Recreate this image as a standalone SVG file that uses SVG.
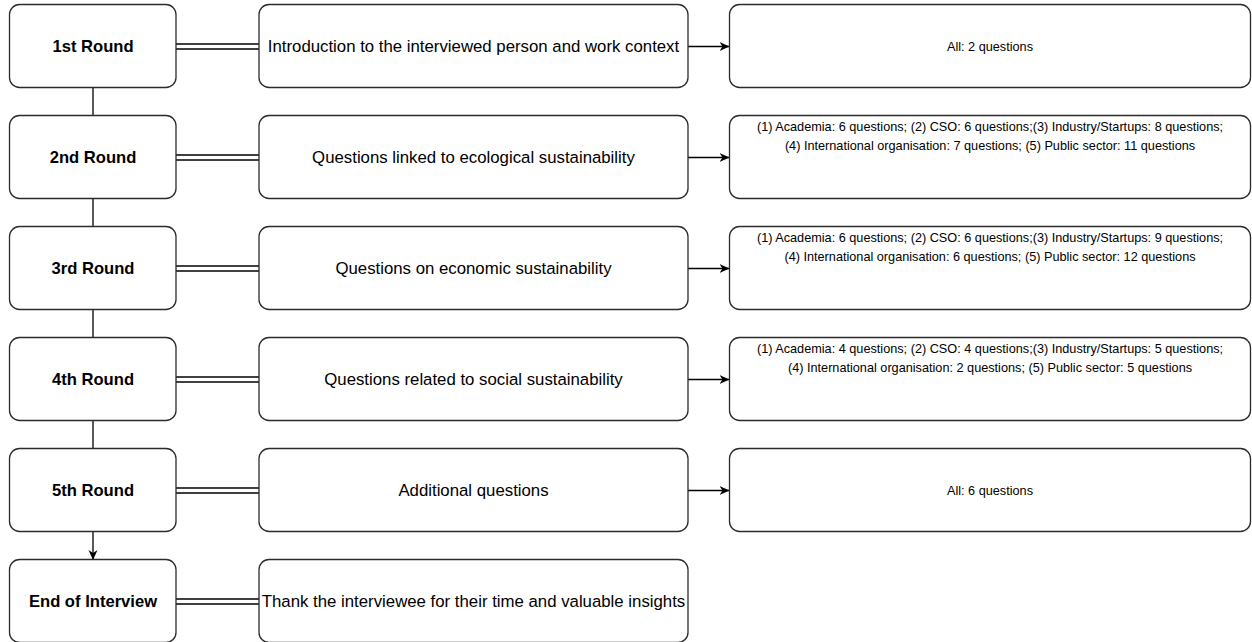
<svg xmlns="http://www.w3.org/2000/svg" width="1252" height="642" viewBox="0 0 1252 642">
  <defs>
    <marker id="arrow" viewBox="0 0 10 10" refX="9.5" refY="5" markerWidth="10" markerHeight="10" markerUnits="userSpaceOnUse" orient="auto">
      <path d="M0,0.5 L10,5 L0,9.5 L3,5 Z" fill="#000"/>
    </marker>
    <style>
      .box { fill: #fff; stroke: #2b2b2b; stroke-width: 1.3; }
      .round { font-family: "Liberation Sans", Arial, sans-serif; font-size: 16.6px; font-weight: bold; fill: #000; text-anchor: middle; }
      .topic { font-family: "Liberation Sans", Arial, sans-serif; font-size: 16.8px; fill: #000; text-anchor: middle; }
      .count { font-family: "Liberation Sans", Arial, sans-serif; font-size: 12.7px; fill: #000; text-anchor: middle; }
      .line { stroke: #000; stroke-width: 1.3; fill: none; }
    </style>
  </defs>

  <!-- connectors -->
  <g id="connectors">
    <!-- vertical chain of rounds -->
    <line class="line" x1="93" y1="87.5" x2="93" y2="115.5"/>
    <line class="line" x1="93" y1="198.5" x2="93" y2="226.5"/>
    <line class="line" x1="93" y1="309.5" x2="93" y2="337.5"/>
    <line class="line" x1="93" y1="420.5" x2="93" y2="448.5"/>
    <line class="line" x1="93" y1="531.5" x2="93" y2="559.5" marker-end="url(#arrow)"/>
    <!-- double links round -> topic -->
    <g class="line">
      <line x1="176" y1="44" x2="259" y2="44"/><line x1="176" y1="49" x2="259" y2="49"/>
      <line x1="176" y1="155" x2="259" y2="155"/><line x1="176" y1="160" x2="259" y2="160"/>
      <line x1="176" y1="266" x2="259" y2="266"/><line x1="176" y1="271" x2="259" y2="271"/>
      <line x1="176" y1="377" x2="259" y2="377"/><line x1="176" y1="382" x2="259" y2="382"/>
      <line x1="176" y1="488" x2="259" y2="488"/><line x1="176" y1="493" x2="259" y2="493"/>
      <line x1="176" y1="599" x2="259" y2="599"/><line x1="176" y1="604" x2="259" y2="604"/>
    </g>
    <!-- arrows topic -> question counts -->
    <line class="line" x1="688" y1="46.5" x2="729" y2="46.5" marker-end="url(#arrow)"/>
    <line class="line" x1="688" y1="157.5" x2="729" y2="157.5" marker-end="url(#arrow)"/>
    <line class="line" x1="688" y1="268.5" x2="729" y2="268.5" marker-end="url(#arrow)"/>
    <line class="line" x1="688" y1="379.5" x2="729" y2="379.5" marker-end="url(#arrow)"/>
    <line class="line" x1="688" y1="490.5" x2="729" y2="490.5" marker-end="url(#arrow)"/>
  </g>

  <!-- row 1 -->
  <g id="round1">
    <rect class="box" x="9.5" y="4.5" width="166.5" height="83" rx="10"/>
    <text class="round" x="93" y="52">1st Round</text>
  </g>
  <g id="topic1">
    <rect class="box" x="259" y="4.5" width="429" height="83" rx="10"/>
    <text class="topic" x="473.5" y="52">Introduction to the interviewed person and work context</text>
  </g>
  <g id="count1">
    <rect class="box" x="729.5" y="4.5" width="521" height="83" rx="10"/>
    <text class="count" x="990" y="51">All: 2 questions</text>
  </g>

  <!-- row 2 -->
  <g id="round2">
    <rect class="box" x="9.5" y="115.5" width="166.5" height="83" rx="10"/>
    <text class="round" x="93" y="163">2nd Round</text>
  </g>
  <g id="topic2">
    <rect class="box" x="259" y="115.5" width="429" height="83" rx="10"/>
    <text class="topic" x="473.5" y="163">Questions linked to ecological sustainability</text>
  </g>
  <g id="count2">
    <rect class="box" x="729.5" y="115.5" width="521" height="83" rx="10"/>
    <text class="count" x="990" y="130.5">(1) Academia: 6 questions; (2) CSO: 6 questions;(3) Industry/Startups: 8 questions;</text>
    <text class="count" x="990" y="149.5">(4) International organisation: 7 questions; (5) Public sector: 11 questions</text>
  </g>

  <!-- row 3 -->
  <g id="round3">
    <rect class="box" x="9.5" y="226.5" width="166.5" height="83" rx="10"/>
    <text class="round" x="93" y="274">3rd Round</text>
  </g>
  <g id="topic3">
    <rect class="box" x="259" y="226.5" width="429" height="83" rx="10"/>
    <text class="topic" x="473.5" y="274">Questions on economic sustainability</text>
  </g>
  <g id="count3">
    <rect class="box" x="729.5" y="226.5" width="521" height="83" rx="10"/>
    <text class="count" x="990" y="241.5">(1) Academia: 6 questions; (2) CSO: 6 questions;(3) Industry/Startups: 9 questions;</text>
    <text class="count" x="990" y="260.5">(4) International organisation: 6 questions; (5) Public sector: 12 questions</text>
  </g>

  <!-- row 4 -->
  <g id="round4">
    <rect class="box" x="9.5" y="337.5" width="166.5" height="83" rx="10"/>
    <text class="round" x="93" y="385">4th Round</text>
  </g>
  <g id="topic4">
    <rect class="box" x="259" y="337.5" width="429" height="83" rx="10"/>
    <text class="topic" x="473.5" y="385">Questions related to social sustainability</text>
  </g>
  <g id="count4">
    <rect class="box" x="729.5" y="337.5" width="521" height="83" rx="10"/>
    <text class="count" x="990" y="352.5">(1) Academia: 4 questions; (2) CSO: 4 questions;(3) Industry/Startups: 5 questions;</text>
    <text class="count" x="990" y="371.5">(4) International organisation: 2 questions; (5) Public sector: 5 questions</text>
  </g>

  <!-- row 5 -->
  <g id="round5">
    <rect class="box" x="9.5" y="448.5" width="166.5" height="83" rx="10"/>
    <text class="round" x="93" y="496">5th Round</text>
  </g>
  <g id="topic5">
    <rect class="box" x="259" y="448.5" width="429" height="83" rx="10"/>
    <text class="topic" x="473.5" y="496">Additional questions</text>
  </g>
  <g id="count5">
    <rect class="box" x="729.5" y="448.5" width="521" height="83" rx="10"/>
    <text class="count" x="990" y="495">All: 6 questions</text>
  </g>

  <!-- row 6 -->
  <g id="end">
    <rect class="box" x="9.5" y="559.5" width="166.5" height="83" rx="10"/>
    <text class="round" x="93" y="607">End of Interview</text>
  </g>
  <g id="thanks">
    <rect class="box" x="259" y="559.5" width="429" height="83" rx="10"/>
    <text class="topic" x="473.5" y="607">Thank the interviewee for their time and valuable insights</text>
  </g>
</svg>
